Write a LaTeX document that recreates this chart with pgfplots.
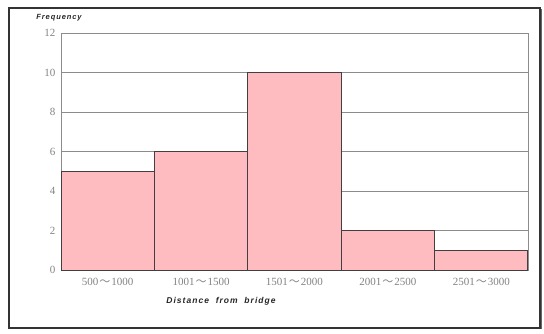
\documentclass[border=0pt]{standalone}
\usepackage{pgfplots}
\pgfplotsset{compat=1.18}
\usepackage{fontspec}
\setmainfont{Liberation Serif}
\newfontfamily\lab[LetterSpace=12]{Liberation Sans}
\newfontfamily\cjk{Noto Sans CJK JP}
\definecolor{barpink}{RGB}{255,188,192}
\definecolor{gridg}{RGB}{140,140,140}
\definecolor{tickg}{RGB}{130,130,130}
\newcommand{\tl}{\kern1pt{\cjk ～}\kern1pt}
\begin{document}
\begin{tikzpicture}[x=1pt,y=1pt]
\path (0,0) rectangle (544,333);
\draw[line width=1.6pt, color=black!80] (9,5) rectangle (540,325);
\draw[line width=1.2pt, color=black!60] (541.5,4) -- (541.5,324);
\begin{axis}[
  at={(61pt,63pt)}, anchor=south west,
  scale only axis, width=467pt, height=237pt,
  xmin=0, xmax=5, ymin=0, ymax=12,
  ytick={0,2,...,12},
  xtick={0.5,1.5,2.5,3.5,4.5},
  xticklabels={500\tl1000,1001\tl1500,1501\tl2000,2001\tl2500,2501\tl3000},
  x tick style={draw=none},
  major tick length=3pt,
  y tick style={gridg},
  tick align=inside,
  ymajorgrids, grid style={gridg, line width=0.9pt},
  axis line style={gridg, line width=0.9pt},
  tick label style={font=\fontsize{11}{13}\selectfont, text=tickg},
  /pgf/number format/assume math mode=true,
  yticklabel style={xshift=-2pt},
  xticklabel style={yshift=-5pt},
  axis on top=false,
]
\addplot[ybar interval, fill=barpink, draw=black!75, line width=1pt]
  coordinates {(0,5) (1,6) (2,10) (3,2) (4,1) (5,1)};
\end{axis}
\node[font=\lab\fontsize{7.5}{8}\selectfont\bfseries\itshape, text=black!85] at (59,315) {Frequency};
\node[font=\lab\fontsize{8.5}{9}\selectfont\bfseries\itshape, text=black!85] at (221,32) {Distance\ \ from\ \ bridge};
\end{tikzpicture}
\end{document}
